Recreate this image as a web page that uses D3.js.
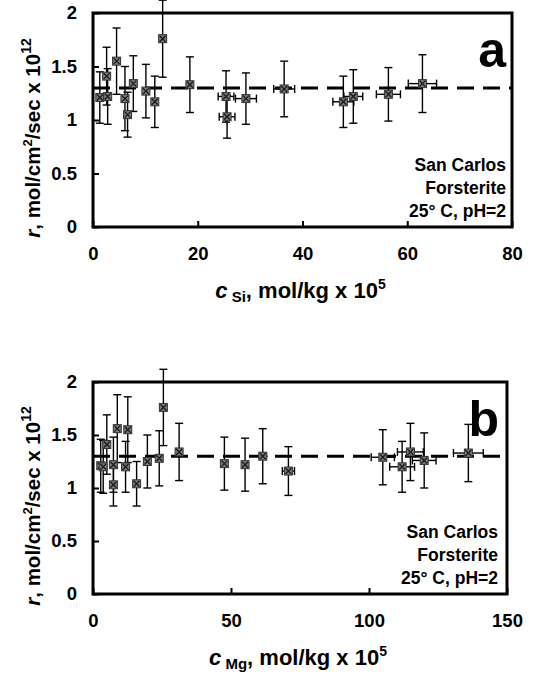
<!DOCTYPE html>
<html>
<head>
<meta charset="utf-8">
<script src="https://cdn.jsdelivr.net/npm/d3@7"></script>
<style>
  body { margin: 0; background: #fff; }
  text { font-family: "Liberation Sans", Arial, sans-serif; font-weight: bold; }
</style>
</head>
<body>
<div id="chart"></div>
<script>
// Panel a: rate vs dissolved Si
const siConc  = [1.3, 2.6, 2.8, 4.5, 6.1, 6.6, 7.7, 10.1, 11.8, 13.3, 18.5, 25.4, 25.6, 29.2, 36.5, 47.8, 49.7, 56.4, 62.9];
const siConcErr = [0.3, 0.3, 0.3, 0.3, 0.3, 0.3, 0.3, 0.3, 0.3, 0.3, 0.5, 1.5, 1.5, 2, 2, 2, 1.8, 2.3, 2.7];
const siRate  = [1.21, 1.41, 1.22, 1.55, 1.2, 1.05, 1.34, 1.27, 1.17, 1.76, 1.33, 1.22, 1.03, 1.2, 1.29, 1.17, 1.22, 1.24, 1.34];
const siRateErr = [0.24, 0.27, 0.26, 0.31, 0.3, 0.21, 0.26, 0.25, 0.24, 0.36, 0.26, 0.24, 0.2, 0.24, 0.26, 0.24, 0.25, 0.25, 0.27];

// Panel b: rate vs dissolved Mg
const mgConc  = [2.8, 5.0, 3.7, 7.4, 7.4, 8.8, 11.8, 12.6, 15.8, 19.7, 24.0, 25.5, 31.2, 47.6, 55.1, 61.5, 70.8, 105, 112, 115, 120, 136];
const mgConcErr = [0.5, 0.5, 0.5, 0.5, 0.5, 0.5, 0.5, 0.5, 0.5, 0.5, 0.5, 0.5, 0.5, 0.8, 0.8, 1.8, 2.2, 4.2, 4.5, 4.7, 4.3, 5.4];
const mgRate  = [1.21, 1.41, 1.2, 1.22, 1.03, 1.56, 1.2, 1.55, 1.04, 1.25, 1.28, 1.76, 1.34, 1.23, 1.22, 1.3, 1.16, 1.29, 1.2, 1.34, 1.26, 1.33];
const mgRateErr = [0.25, 0.28, 0.25, 0.26, 0.2, 0.32, 0.24, 0.31, 0.21, 0.25, 0.26, 0.36, 0.27, 0.25, 0.25, 0.26, 0.23, 0.26, 0.24, 0.27, 0.26, 0.27];

const meanRate = 1.3;
const yTicks = [0, 0.5, 1, 1.5, 2];
const siTicks = [0, 20, 40, 60, 80];
const mgTicks = [0, 50, 100, 150];
const noteLines = ['San Carlos', 'Forsterite', '25° C, pH=2'];

const svg = d3.select('#chart').append('svg')
    .attr('width', 535)
    .attr('height', 676);

drawPanel({ top: 13, bottom: 227, left: 93, right: 512, xMax: 80, xTicks: siTicks,
            xs: siConc, xe: siConcErr, ys: siRate, ye: siRateErr,
            letter: 'a', sub: 'Si', noteRight: 506, letterX: 506 });
drawPanel({ top: 382, bottom: 594, left: 93, right: 507, xMax: 150, xTicks: mgTicks,
            xs: mgConc, xe: mgConcErr, ys: mgRate, ye: mgRateErr,
            letter: 'b', sub: 'Mg', noteRight: 498, letterX: 499 });

function drawPanel(p) {
    const x = d3.scaleLinear().domain([0, p.xMax]).range([p.left, p.right]);
    const y = d3.scaleLinear().domain([0, 2]).range([p.bottom, p.top]);
    const g = svg.append('g');

    // axes with inward ticks
    const ya = g.append('g')
        .attr('transform', `translate(${p.left},0)`)
        .call(d3.axisLeft(y).tickValues(yTicks).tickFormat(d3.format('')).tickSize(-6).tickPadding(16));
    const xa = g.append('g')
        .attr('transform', `translate(0,${p.bottom})`)
        .call(d3.axisBottom(x).tickValues(p.xTicks).tickSize(-6).tickPadding(20));
    [ya, xa].forEach(a => {
        a.select('.domain').remove();
        a.selectAll('line').attr('stroke', '#000').attr('stroke-width', 2);
        a.selectAll('text').attr('font-size', 18.5).attr('fill', '#000')
            .style('font-family', '"Liberation Sans", Arial, sans-serif').style('font-weight', 'bold');
    });

    // mean rate line
    g.append('line')
        .attr('x1', p.left).attr('x2', p.right)
        .attr('y1', y(meanRate)).attr('y2', y(meanRate))
        .attr('stroke', '#000').attr('stroke-width', 3)
        .attr('stroke-dasharray', '17,9');

    const idx = d3.range(p.xs.length);
    const bars = g.append('g').attr('stroke', '#000').attr('stroke-width', 1.4);

    // error bars, vertical then horizontal
    idx.forEach(i => {
        const cx = x(p.xs[i]);
        const y1 = y(p.ys[i] + p.ye[i]), y2 = y(p.ys[i] - p.ye[i]);
        bars.append('line').attr('x1', cx).attr('x2', cx).attr('y1', y1).attr('y2', y2);
        bars.append('line').attr('x1', cx - 4).attr('x2', cx + 4).attr('y1', y1).attr('y2', y1);
        bars.append('line').attr('x1', cx - 4).attr('x2', cx + 4).attr('y1', y2).attr('y2', y2);
        const x1 = x(p.xs[i] - p.xe[i]), x2 = x(p.xs[i] + p.xe[i]);
        const cy = y(p.ys[i]);
        bars.append('line').attr('x1', x1).attr('x2', x2).attr('y1', cy).attr('y2', cy);
        if (x2 - x1 > 10) {
            bars.append('line').attr('x1', x1).attr('x2', x1).attr('y1', cy - 4).attr('y2', cy + 4);
            bars.append('line').attr('x1', x2).attr('x2', x2).attr('y1', cy - 4).attr('y2', cy + 4);
        }
    });

    // markers
    const m = g.append('g');
    idx.forEach(i => {
        const cx = x(p.xs[i]), cy = y(p.ys[i]);
        m.append('rect').attr('x', cx - 4).attr('y', cy - 4).attr('width', 8).attr('height', 8)
            .attr('fill', '#7a7a7a').attr('stroke', '#333').attr('stroke-width', 1);
        m.append('path').attr('d', `M${cx - 3},${cy - 3}L${cx + 3},${cy + 3}M${cx + 3},${cy - 3}L${cx - 3},${cy + 3}`)
            .attr('stroke', '#1a1a1a').attr('stroke-width', 1.3);
    });

    // frame
    g.append('rect')
        .attr('x', p.left).attr('y', p.top)
        .attr('width', p.right - p.left).attr('height', p.bottom - p.top)
        .attr('fill', 'none').attr('stroke', '#000').attr('stroke-width', 3);

    // panel letter
    g.append('text')
        .attr('x', p.letterX).attr('y', p.top + 54)
        .attr('text-anchor', 'end').attr('font-size', 50)
        .text(p.letter);

    // annotation
    g.selectAll('.note').data(noteLines).join('text')
        .attr('x', p.noteRight)
        .attr('y', (d, i) => p.bottom - 56 + i * 23)
        .attr('text-anchor', 'end').attr('font-size', 17.5)
        .text(d => d);

    // x axis title
    const xt = g.append('text')
        .attr('x', (p.left + p.right) / 2 - 2).attr('y', p.bottom + 71)
        .attr('text-anchor', 'middle').attr('font-size', 22);
    xt.append('tspan').attr('font-style', 'italic').text('c');
    xt.append('tspan').attr('font-size', 15).attr('dy', 4).text(' ' + p.sub);
    xt.append('tspan').attr('dy', -4).text(', mol/kg x 10');
    xt.append('tspan').attr('font-size', 14).attr('dy', -9).text('5');

    // y axis title
    const cy = (p.top + p.bottom) / 2 + 18;
    const yt = g.append('text')
        .attr('transform', `translate(40,${cy}) rotate(-90)`)
        .attr('text-anchor', 'middle').attr('font-size', 20.5);
    yt.append('tspan').attr('font-style', 'italic').text('r');
    yt.append('tspan').text(', mol/cm');
    yt.append('tspan').attr('font-size', 13).attr('dy', -8).text('2');
    yt.append('tspan').attr('dy', 8).text('/sec x 10');
    yt.append('tspan').attr('font-size', 14).attr('dy', -9).text('12');
}
</script>
</body>
</html>
